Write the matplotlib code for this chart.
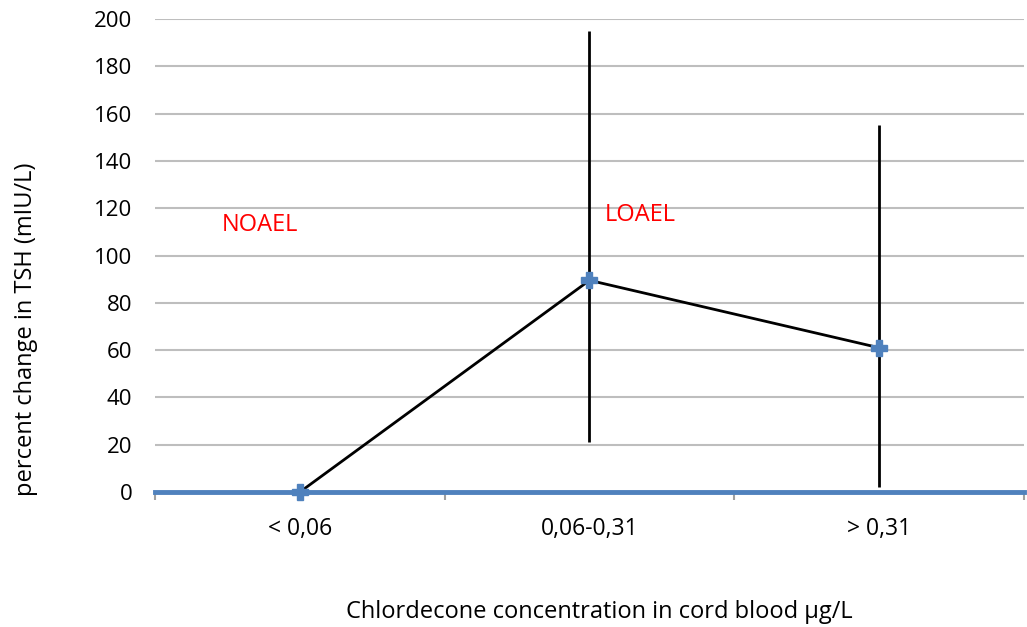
import matplotlib
matplotlib.use('Agg')
import matplotlib.pyplot as plt
import numpy as np

plt.rcParams['font.family'] = ['Open Sans', 'DejaVu Sans']

CATEGORIES = ['< 0,06', '0,06-0,31', '> 0,31']
PCT_CHANGE = [0, 89.5, 61]
ERR_LOW = [0, 21, 2]
ERR_HIGH = [0, 195, 155]
Y_TICKS = [0, 20, 40, 60, 80, 100, 120, 140, 160, 180, 200]

BLUE = '#4F81BD'


def main(outfile):
    fig = plt.figure(figsize=(10.27, 6.27), dpi=100)
    ax = fig.add_axes([0.151, 0.2153, 0.846, 0.7544])

    x = np.arange(len(CATEGORIES)) + 0.5
    y = np.array(PCT_CHANGE)
    lower = y - np.array(ERR_LOW)
    upper = np.array(ERR_HIGH) - y

    ax.errorbar(x, y, yerr=[lower, upper], fmt='none', ecolor='black',
                elinewidth=2, capsize=0, zorder=3)
    ax.plot(x, y, color='black', lw=2, zorder=4, clip_on=False)
    ax.plot(x, y, linestyle='none', marker='P', markersize=12,
            color=BLUE, markeredgecolor=BLUE, zorder=5, clip_on=False)

    ax.set_xlim(0, 3)
    ax.set_ylim(0, 200)
    ax.set_yticks(Y_TICKS)
    ax.set_yticklabels([str(v) for v in Y_TICKS], fontsize=16)
    ax.set_xticks([0, 1, 2, 3])
    ax.set_xticklabels([])
    ax.set_xticks(x, minor=True)
    ax.set_xticklabels(CATEGORIES, minor=True, fontsize=16.5)
    ax.tick_params(axis='x', which='major', length=6, color='#A0A0A0', width=1.5)
    ax.tick_params(axis='x', which='minor', length=0, pad=18)
    ax.tick_params(axis='y', length=0, pad=16.5)

    for v in Y_TICKS[1:]:
        ax.axhline(v, color='#BEBEBE', lw=1.5, zorder=1)
    for side in ['left', 'right', 'top']:
        ax.spines[side].set_visible(False)
    ax.spines['bottom'].set_color(BLUE)
    ax.spines['bottom'].set_linewidth(3.5)
    ax.spines['bottom'].set_zorder(2)

    ax.text(0.231, 113, 'NOAEL', color='red', fontsize=17, va='center', ha='left')
    ax.text(1.552, 117, 'LOAEL', color='red', fontsize=17, va='center', ha='left')

    fig.text(0.025, 0.474, 'percent change in TSH (mIU/L)', fontsize=17,
             rotation=90, ha='center', va='center')
    fig.text(0.584, 0.024, 'Chlordecone concentration in cord blood µg/L',
             fontsize=17, ha='center', va='center')

    fig.savefig(outfile, dpi=100)


if __name__ == '__main__':
    main('out.png')
